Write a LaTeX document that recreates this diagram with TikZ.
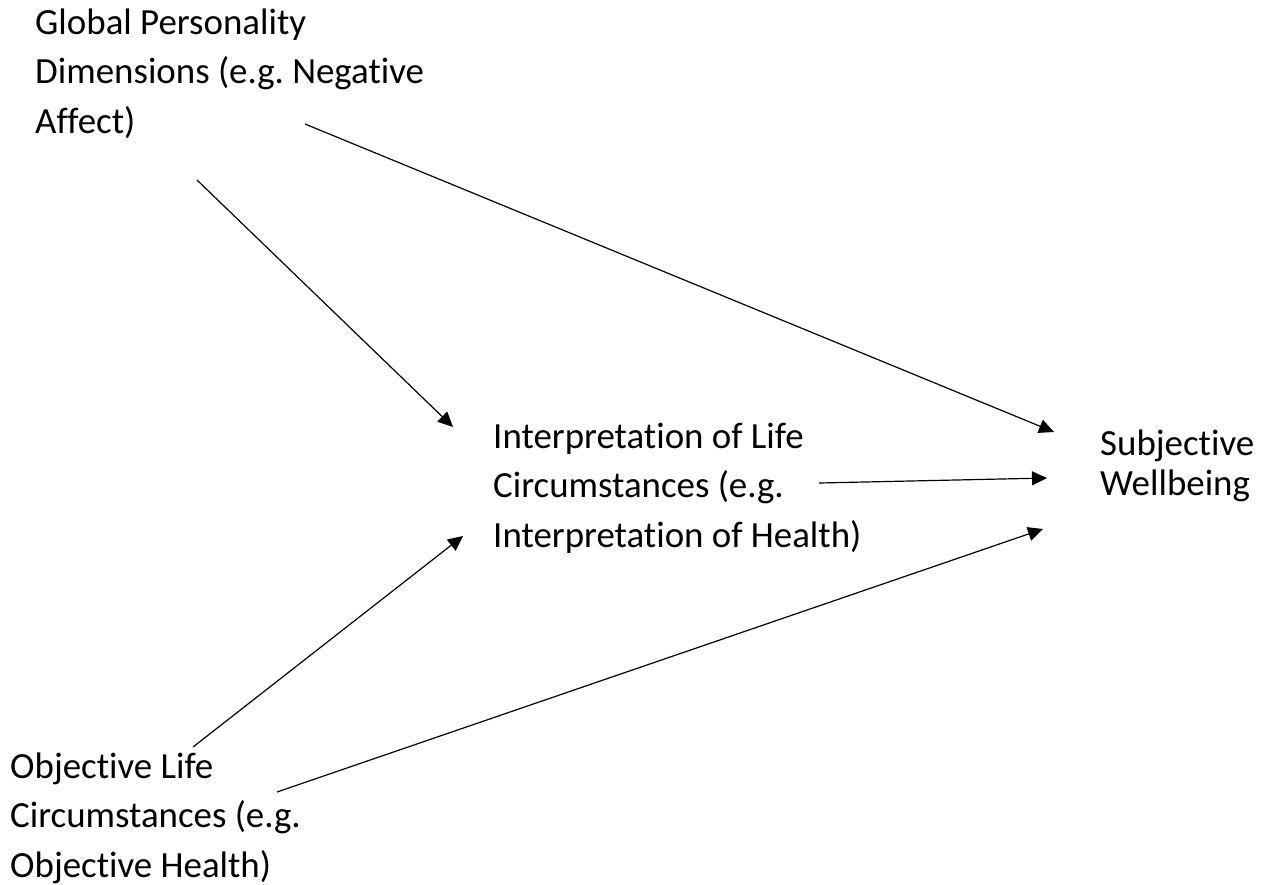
\documentclass[tikz,border=0pt]{standalone}
\usepackage{fontspec}
\setmainfont[Ligatures=NoCommon]{Carlito}
\usepackage{tikz}
\usetikzlibrary{positioning,arrows.meta}
\frenchspacing

\begin{document}
\begin{tikzpicture}[
  x=1pt, y=-1pt,
  txt/.style={anchor=base west, inner sep=0pt, align=left, font=\fontsize{36.9}{49.5}\selectfont},
  arrow/.style={-{Triangle[length=15pt, width=14pt]}, line width=1.2pt}
]
\useasboundingbox (0,0) rectangle (1268,884);
% base west = baseline of the last line
\node[txt] (global) at (35,133) {Global Personality\\Dimensions (e.g. Negative\\Affect)};
\node[txt] (interp) at (493,547) {Interpretation of Life\\Circumstances (e.g.\\Interpretation of Health)};
\node[txt] (objective) at (10,877) {Objective Life\\Circumstances (e.g.\\Objective Health)};
\node[txt, font=\fontsize{36.9}{40}\selectfont] (swb) at (1100,495) {Subjective\\Wellbeing};

% ends of the connectors
\coordinate (g1) at (305,124);
\coordinate (g2) at (197,180);
\coordinate (i1) at (819,483);
\coordinate (o1) at (193,747);
\coordinate (o2) at (277,792);
\coordinate (s1) at (1054,432);
\coordinate (s2) at (1047,478);
\coordinate (s3) at (1043,529);
\coordinate (i2) at (453,427);
\coordinate (i3) at (463,536);

\draw[arrow] (g1) -- (s1);
\draw[arrow] (g2) -- (i2);
\draw[arrow] (i1) -- (s2);
\draw[arrow] (o1) -- (i3);
\draw[arrow] (o2) -- (s3);
\end{tikzpicture}
\end{document}
